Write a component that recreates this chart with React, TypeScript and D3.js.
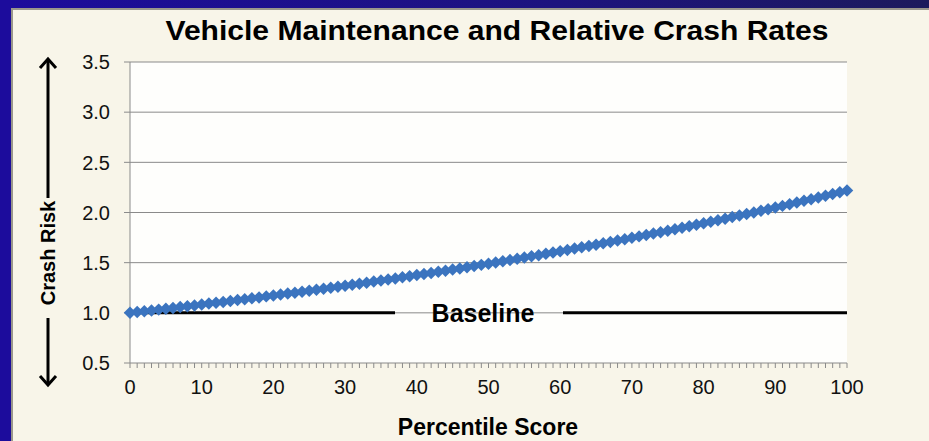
import React from "react";
import * as d3 from "d3";

// percentile score 0..100
const percentiles: number[] = d3.range(0, 101);
// relative crash risk, one value per percentile
const crashRisk: number[] = [
  1.0, 1.008, 1.016, 1.024, 1.032, 1.041, 1.049, 1.057, 1.066, 1.074,
  1.083, 1.092, 1.1, 1.109, 1.118, 1.127, 1.136, 1.145, 1.154, 1.164,
  1.173, 1.182, 1.192, 1.201, 1.211, 1.221, 1.23, 1.24, 1.25, 1.26,
  1.27, 1.281, 1.291, 1.301, 1.312, 1.322, 1.333, 1.343, 1.354, 1.365,
  1.376, 1.387, 1.398, 1.409, 1.42, 1.432, 1.443, 1.455, 1.466, 1.478,
  1.49, 1.502, 1.514, 1.526, 1.538, 1.551, 1.563, 1.575, 1.588, 1.601,
  1.614, 1.627, 1.64, 1.653, 1.666, 1.679, 1.693, 1.706, 1.72, 1.734,
  1.748, 1.762, 1.776, 1.79, 1.804, 1.819, 1.833, 1.848, 1.863, 1.878,
  1.893, 1.908, 1.923, 1.938, 1.954, 1.97, 1.985, 2.001, 2.017, 2.033,
  2.05, 2.066, 2.083, 2.099, 2.116, 2.133, 2.15, 2.167, 2.185, 2.202,
  2.22,
];
const yTicks: number[] = [0.5, 1.0, 1.5, 2.0, 2.5, 3.0, 3.5];
const xTicks: number[] = [0, 10, 20, 30, 40, 50, 60, 70, 80, 90, 100];
const baselineValue = 1.0;

const title = "Vehicle Maintenance and Relative Crash Rates";
const xTitle = "Percentile Score";
const yTitle = "Crash Risk";
const baselineLabel = "Baseline";

const W = 929;
const H = 441;
const font = "'Liberation Sans', Arial, sans-serif";
const blue = "#3b74bf";

export default function App() {
  const x = d3.scaleLinear().domain([0, 100]).range([130, 847]);
  const y = d3.scaleLinear().domain([0.5, 3.5]).range([363, 62]);
  const marker = d3.symbol().type(d3.symbolSquare).size(78)();
  const by = y(baselineValue);

  return (
    <div style={{ position: "fixed", left: 0, top: 0, width: W, height: H, overflow: "hidden", background: "#f8f5e9" }}>
      <svg width={W} height={H} style={{ display: "block" }} fontFamily={font}>
        <defs>
          <linearGradient id="frame" x1="0" x2="1" y1="0" y2="0">
            <stop offset="0" stopColor="#1c0c9c" />
            <stop offset="0.6" stopColor="#1d137e" />
            <stop offset="1" stopColor="#1c1a5c" />
          </linearGradient>
        </defs>
        {/* slide frame: blue strip on top and left only */}
        <rect x={0} y={0} width={W} height={H} fill="#f8f5e9" />
        <rect x={0} y={0} width={W} height={8} fill="url(#frame)" />
        <rect x={0} y={0} width={11} height={H} fill="#1c0c9c" />
        <rect x={11} y={8} width={W - 11} height={2} fill="#9a978c" />
        <rect x={11} y={8} width={2} height={H - 8} fill="#9a978c" />

        {/* plot area */}
        <rect
          x={x(0)}
          y={y(3.5)}
          width={x(100) - x(0)}
          height={y(0.5) - y(3.5)}
          fill="#fefefc"
        />

        {/* gridlines + y ticks */}
        {yTicks.map((t) => (
          <g key={t}>
            {t > 0.5 && (
              <line
                x1={x(0)}
                x2={x(100)}
                y1={y(t)}
                y2={y(t)}
                stroke="#8a8a8a"
                strokeWidth={1}
              />
            )}
            <line x1={124} x2={x(0)} y1={y(t)} y2={y(t)} stroke="#8a8a8a" />
            <text
              x={110}
              y={y(t)}
              dy="0.36em"
              textAnchor="end"
              fontSize={20}
              fill="#111"
            >
              {t.toFixed(1)}
            </text>
          </g>
        ))}
        <line x1={x(0)} x2={x(0)} y1={y(3.5)} y2={y(0.5)} stroke="#8a8a8a" />

        {/* x axis */}
        <line x1={x(0)} x2={x(100)} y1={y(0.5)} y2={y(0.5)} stroke="#8a8a8a" />
        {percentiles.map((p) => (
          <line
            key={p}
            x1={x(p)}
            x2={x(p)}
            y1={y(0.5)}
            y2={y(0.5) + 5}
            stroke="#8a8a8a"
          />
        ))}
        {xTicks.map((t) => (
          <text
            key={t}
            x={x(t)}
            y={394}
            textAnchor="middle"
            fontSize={20}
            fill="#111"
          >
            {t}
          </text>
        ))}

        {/* baseline */}
        <line x1={x(0)} x2={395} y1={by} y2={by} stroke="#000" strokeWidth={3} />
        <line x1={563} x2={x(100)} y1={by} y2={by} stroke="#000" strokeWidth={3} />
        <text
          x={483}
          y={by}
          dy="0.36em"
          textAnchor="middle"
          fontSize={25}
          fontWeight="bold"
          fill="#000"
        >
          {baselineLabel}
        </text>

        {/* series */}
        {percentiles.map((p, i) => (
          <path
            key={p}
            d={marker ?? ""}
            transform={`translate(${x(p)},${y(crashRisk[i])}) rotate(45)`}
            fill={blue}
          />
        ))}

        {/* titles */}
        <text
          x={497}
          y={40}
          textAnchor="middle"
          fontSize={27}
          fontWeight="bold"
          fill="#000"
          textLength={663}
          lengthAdjust="spacingAndGlyphs"
        >
          {title}
        </text>
        <text
          x={488}
          y={435}
          textAnchor="middle"
          fontSize={23}
          fontWeight="bold"
          fill="#000"
        >
          {xTitle}
        </text>

        {/* y title with arrows */}
        <text
          transform={`translate(55,253) rotate(-90)`}
          textAnchor="middle"
          fontSize={20}
          fontWeight="bold"
          fill="#000"
        >
          {yTitle}
        </text>
        <line x1={48} x2={48} y1={60} y2={198} stroke="#000" strokeWidth={3} />
        <polyline
          points="40,68 48,59 56,68"
          fill="none"
          stroke="#000"
          strokeWidth={3}
        />
        <line x1={48} x2={48} y1={318} y2={385} stroke="#000" strokeWidth={3} />
        <polyline
          points="40,376 48,385 56,376"
          fill="none"
          stroke="#000"
          strokeWidth={3}
        />
      </svg>
    </div>
  );
}
